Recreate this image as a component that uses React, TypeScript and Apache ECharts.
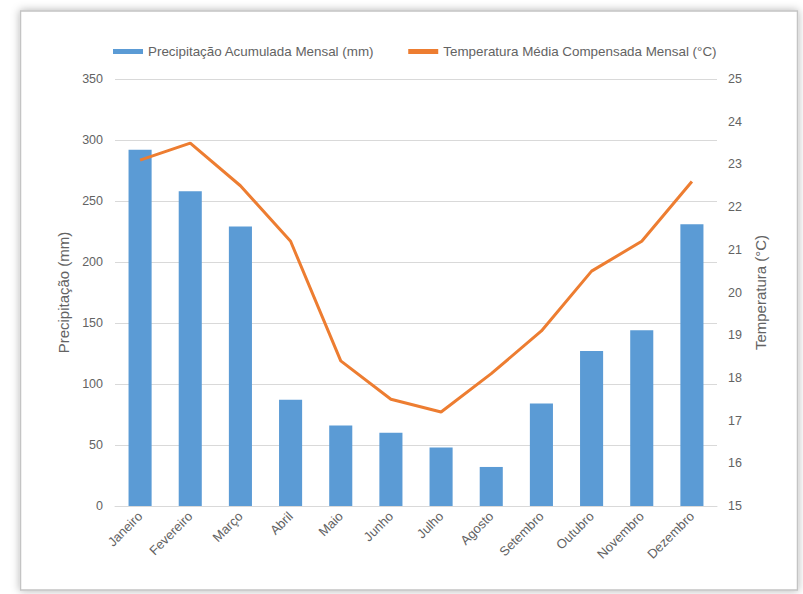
import React, { useEffect, useRef } from "react";
import * as echarts from "echarts";

const categories = [
  "Janeiro",
  "Fevereiro",
  "Março",
  "Abril",
  "Maio",
  "Junho",
  "Julho",
  "Agosto",
  "Setembro",
  "Outubro",
  "Novembro",
  "Dezembro",
];
const precipitation = [292, 258, 229, 87, 66, 60, 48, 32, 84, 127, 144, 231];
const temperature = [23.1, 23.5, 22.5, 21.2, 18.4, 17.5, 17.2, 18.1, 19.1, 20.5, 21.2, 22.6];

const precipName = "Precipitação Acumulada Mensal (mm)";
const tempName = "Temperatura Média Compensada Mensal (°C)";

const FONT = "'Liberation Sans', Arial, sans-serif";
const GREY = "#636363";

export default function App() {
  const ref = useRef<HTMLDivElement>(null);

  useEffect(() => {
    if (!ref.current) return;
    const chart = echarts.init(ref.current, null, { renderer: "svg" });
    chart.setOption({
      animation: false,
      backgroundColor: "#ffffff",
      textStyle: { fontFamily: FONT },
      graphic: [
        {
          type: "rect",
          z: -10,
          shape: { x: 20.5, y: 11, width: 777, height: 579 },
          style: {
            fill: "#ffffff",
            stroke: "#c4c4c4",
            lineWidth: 1.5,
            shadowBlur: 8,
            shadowColor: "rgba(0,0,0,0.3)",
          },
        },
      ],
      legend: {
        left: 108,
        top: 40,
        itemWidth: 30,
        itemHeight: 5,
        itemGap: 34,
        textStyle: { color: GREY, fontSize: 13.4, fontFamily: FONT },
        data: [
          { name: precipName, icon: "rect" },
          { name: tempName, icon: "rect" },
        ],
      },
      grid: { left: 115, right: 86, top: 79, bottom: 88 },
      xAxis: {
        type: "category",
        data: categories,
        axisTick: { show: false },
        axisLine: { lineStyle: { color: "#d9d9d9", width: 1 } },
        axisLabel: {
          interval: 0,
          rotate: 45,
          margin: 8,
          color: GREY,
          fontSize: 13,
          fontFamily: FONT,
        },
      },
      yAxis: [
        {
          type: "value",
          min: 0,
          max: 350,
          interval: 50,
          name: "Precipitação (mm)",
          nameLocation: "middle",
          nameGap: 34,
          nameTextStyle: { color: GREY, fontSize: 15, fontFamily: FONT },
          axisLine: { show: false },
          axisTick: { show: false },
          axisLabel: { color: GREY, fontSize: 12.5, margin: 12, fontFamily: FONT },
          splitLine: { lineStyle: { color: "#d9d9d9", width: 1 } },
        },
        {
          type: "value",
          min: 15,
          max: 25,
          interval: 1,
          position: "right",
          name: "Temperatura (°C)",
          nameLocation: "middle",
          nameGap: 31,
          nameTextStyle: { color: GREY, fontSize: 15, fontFamily: FONT },
          axisLine: { show: false },
          axisTick: { show: false },
          axisLabel: { color: GREY, fontSize: 12.5, margin: 11, fontFamily: FONT },
          splitLine: { show: false },
        },
      ],
      series: [
        {
          name: precipName,
          type: "bar",
          data: precipitation,
          yAxisIndex: 0,
          barWidth: "46%",
          itemStyle: { color: "#5b9bd5" },
        },
        {
          name: tempName,
          type: "line",
          data: temperature,
          yAxisIndex: 1,
          symbol: "none",
          showSymbol: false,
          lineStyle: { color: "#ed7d31", width: 3 },
          itemStyle: { color: "#ed7d31" },
        },
      ],
    });
    return () => chart.dispose();
  }, []);

  return (
    <div
      ref={ref}
      style={{ position: "fixed", left: 0, top: 0, width: 803, height: 594 }}
    />
  );
}
